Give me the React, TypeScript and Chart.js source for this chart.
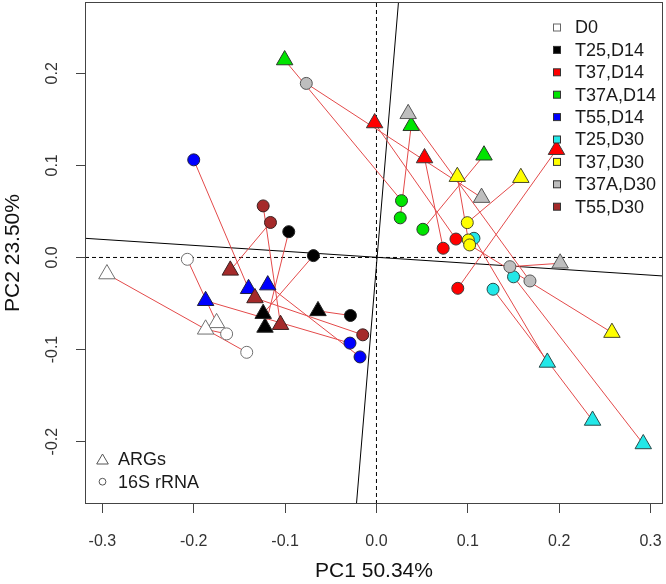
import React, { useEffect, useRef } from 'react';
import { Chart, registerables } from 'chart.js';

Chart.register(...registerables);

// ---- data ----
const groups = ['D0', 'T25,D14', 'T37,D14', 'T37A,D14', 'T55,D14', 'T25,D30', 'T37,D30', 'T37A,D30', 'T55,D30'];

// sample -> group index (3 replicates per group)
const sampleGroup = [0, 0, 0, 1, 1, 1, 2, 2, 2, 3, 3, 3, 4, 4, 4, 5, 5, 5, 6, 6, 6, 7, 7, 7, 8, 8, 8];

// ARGs (triangles)
const argPC1 = [
  -0.295, -0.175, -0.187,
  -0.124, -0.122, -0.064,
  -0.002, 0.0526, 0.197,
  -0.1005, 0.038, 0.1177,
  -0.140, -0.187, -0.119,
  0.187, 0.2365, 0.292,
  0.0885, 0.158, 0.2577,
  0.0347, 0.115, 0.201,
  -0.160, -0.133, -0.105,
];
const argPC2 = [
  -0.018, -0.071, -0.078,
  -0.061, -0.076, -0.058,
  0.146, 0.108, 0.117,
  0.2144, 0.143, 0.111,
  -0.034, -0.047, -0.030,
  -0.114, -0.177, -0.2025,
  0.0877, 0.0866, -0.0816,
  0.156, 0.065, -0.0063,
  -0.014, -0.044, -0.073,
];

// 16S rRNA (circles)
const rrnaPC1 = [
  -0.142, -0.207, -0.164,
  -0.069, -0.096, -0.0285,
  0.087, 0.073, 0.089,
  0.0274, 0.026, 0.0508,
  -0.200, -0.029, -0.018,
  0.1067, 0.1276, 0.150,
  0.1005, 0.0994, 0.102,
  0.168, -0.0768, 0.146,
  -0.116, -0.015, -0.124,
];
const rrnaPC2 = [
  -0.103, -0.002, -0.083,
  0.002, 0.028, -0.063,
  0.020, 0.010, -0.0335,
  0.0617, 0.043, 0.0306,
  0.106, -0.093, -0.108,
  0.0208, -0.0345, -0.021,
  0.019, 0.0378, 0.0136,
  -0.0255, 0.189, -0.010,
  0.038, -0.084, 0.056,
];

const xTicks = [-0.3, -0.2, -0.1, 0.0, 0.1, 0.2, 0.3];
const yTicks = [-0.2, -0.1, 0.0, 0.1, 0.2];
const xRange = [-0.319, 0.3136];
const yRange = [-0.2677, 0.2774];

// Procrustes rotation axes (end points, data units)
const rotAxisA_X = [-0.319, 0.3136];
const rotAxisA_Y = [0.0208, -0.0201];
const rotAxisB_X = [-0.0219, 0.0241];
const rotAxisB_Y = [-0.2677, 0.2774];

const markerLegend = ['ARGs', '16S rRNA'];
const xTitle = 'PC1 50.34%';
const yTitle = 'PC2 23.50%';

// ---- styles ----
const groupFill = ['#ffffff', '#000000', '#ff0000', '#00e400', '#0000ff', '#22e8e8', '#ffff00', '#bebebe', '#a52a2a'];
const groupEdge = ['#707070', '#222222', '#3a3a3a', '#2a3a2a', '#202040', '#2a4a4a', '#4a4a2a', '#555555', '#3a2020'];
const FONT = '"Liberation Sans", Arial, Helvetica, sans-serif';

const overlay = {
  id: 'overlay',
  afterDraw(chart: any) {
    const { ctx, chartArea: a } = chart;
    ctx.save();
    // frame
    ctx.strokeStyle = '#444';
    ctx.lineWidth = 1;
    ctx.strokeRect(Math.round(a.left) + 0.5, Math.round(a.top) + 0.5,
      Math.round(a.right - a.left) - 1, Math.round(a.bottom - a.top) - 1);

    // group legend (top right)
    ctx.font = '18px ' + FONT;
    ctx.textBaseline = 'middle';
    ctx.textAlign = 'left';
    groups.forEach((g, i) => {
      const y = a.top + 25.5 + i * 22.4;
      const sx = a.right - 106;
      ctx.fillStyle = groupFill[i];
      ctx.fillRect(sx - 3.5, y - 3.5, 7, 7);
      ctx.strokeStyle = i === 0 ? '#666' : '#333';
      ctx.strokeRect(sx - 3.5, y - 3.5, 7, 7);
      ctx.fillStyle = '#1a1a1a';
      ctx.fillText(g, a.right - 88, y + 1);
    });

    // marker legend (bottom left)
    const lx = a.left + 17.5;
    const ty = a.bottom - 44.5;
    const cy = a.bottom - 22.3;
    ctx.strokeStyle = '#555';
    ctx.lineWidth = 1;
    ctx.beginPath();
    ctx.moveTo(lx, ty - 5.5);
    ctx.lineTo(lx + 5.8, ty + 4.5);
    ctx.lineTo(lx - 5.8, ty + 4.5);
    ctx.closePath();
    ctx.stroke();
    ctx.beginPath();
    ctx.arc(lx, cy, 3.4, 0, Math.PI * 2);
    ctx.stroke();
    ctx.fillStyle = '#1a1a1a';
    ctx.fillText(markerLegend[0], a.left + 33, ty + 1);
    ctx.fillText(markerLegend[1], a.left + 33, cy + 1);
    ctx.restore();
  },
};

export default function App() {
  const ref = useRef<HTMLCanvasElement>(null);

  useEffect(() => {
    document.body.style.margin = '0';
    if (!ref.current) return;

    const segments = argPC1.map((_, i) => ({
      type: 'line',
      data: [
        { x: argPC1[i], y: argPC2[i] },
        { x: rrnaPC1[i], y: rrnaPC2[i] },
      ],
      borderColor: '#e34a4a',
      borderWidth: 1,
      pointRadius: 0,
      showLine: true,
      fill: false,
      order: 5,
    }));

    const refLines = [
      {
        type: 'line',
        data: [{ x: xRange[0], y: 0 }, { x: xRange[1], y: 0 }],
        borderColor: '#000', borderWidth: 1, borderDash: [4, 3], pointRadius: 0, showLine: true, order: 6,
      },
      {
        type: 'line',
        data: [{ x: 0, y: yRange[0] }, { x: 0, y: yRange[1] }],
        borderColor: '#000', borderWidth: 1, borderDash: [4, 3], pointRadius: 0, showLine: true, order: 6,
      },
      {
        type: 'line',
        data: [{ x: rotAxisA_X[0], y: rotAxisA_Y[0] }, { x: rotAxisA_X[1], y: rotAxisA_Y[1] }],
        borderColor: '#000', borderWidth: 1, pointRadius: 0, showLine: true, order: 6,
      },
      {
        type: 'line',
        data: [{ x: rotAxisB_X[0], y: rotAxisB_Y[0] }, { x: rotAxisB_X[1], y: rotAxisB_Y[1] }],
        borderColor: '#000', borderWidth: 1, pointRadius: 0, showLine: true, order: 6,
      },
    ];

    const circles = {
      type: 'scatter',
      data: rrnaPC1.map((x, i) => ({ x, y: rrnaPC2[i] })),
      pointStyle: 'circle',
      pointRadius: 6,
      pointBorderWidth: 1,
      pointBackgroundColor: sampleGroup.map((g) => groupFill[g]),
      pointBorderColor: sampleGroup.map((g) => groupEdge[g]),
      order: 2,
    };

    const triangles = {
      type: 'scatter',
      data: argPC1.map((x, i) => ({ x, y: argPC2[i] })),
      pointStyle: 'triangle',
      pointRadius: 9.5,
      pointBorderWidth: 1,
      pointBackgroundColor: sampleGroup.map((g) => groupFill[g]),
      pointBorderColor: sampleGroup.map((g) => groupEdge[g]),
      order: 1,
    };

    const chart = new Chart(ref.current, {
      type: 'scatter',
      data: { datasets: [...refLines, ...segments, circles, triangles] as any },
      options: {
        animation: false,
        responsive: false,
        events: [],
        layout: { autoPadding: false, padding: { top: 2, right: 3, left: 0, bottom: 0 } },
        plugins: { legend: { display: false }, tooltip: { enabled: false } },
        scales: {
          x: {
            type: 'linear',
            min: xRange[0],
            max: xRange[1],
            afterBuildTicks: (s: any) => { s.ticks = xTicks.map((v) => ({ value: v })); },
            afterFit: (s: any) => {
              s.height = 80;
              s.paddingLeft = 0;
              s.paddingRight = 0;
            },
            ticks: {
              callback: (v: any) => Number(v).toFixed(1),
              font: { size: 16, family: FONT },
              color: '#333',
              padding: 19,
              maxRotation: 0,
              autoSkip: false,
            },
            grid: { drawOnChartArea: false, tickLength: 9, color: '#444', tickWidth: 1 },
            border: { display: false },
            title: { display: true, text: xTitle, font: { size: 21, family: FONT }, color: '#111', padding: { top: 0, bottom: 0 } },
          },
          y: {
            type: 'linear',
            min: yRange[0],
            max: yRange[1],
            afterBuildTicks: (s: any) => { s.ticks = yTicks.map((v) => ({ value: v })); },
            afterFit: (s: any) => {
              s.width = 85;
              s.paddingTop = 0;
              s.paddingBottom = 0;
            },
            ticks: {
              callback: (v: any) => Number(v).toFixed(1),
              font: { size: 16, family: FONT },
              color: '#333',
              padding: 10,
              minRotation: 90,
              maxRotation: 90,
              crossAlign: 'center',
              autoSkip: false,
            },
            grid: { drawOnChartArea: false, tickLength: 9, color: '#444', tickWidth: 1 },
            border: { display: false },
            title: { display: true, text: yTitle, font: { size: 21, family: FONT }, color: '#111', padding: { top: 1, bottom: 0 } },
          },
        },
      } as any,
      plugins: [overlay],
    });

    return () => chart.destroy();
  }, []);

  return <canvas ref={ref} width={666} height={584} style={{ display: 'block' }} />;
}
